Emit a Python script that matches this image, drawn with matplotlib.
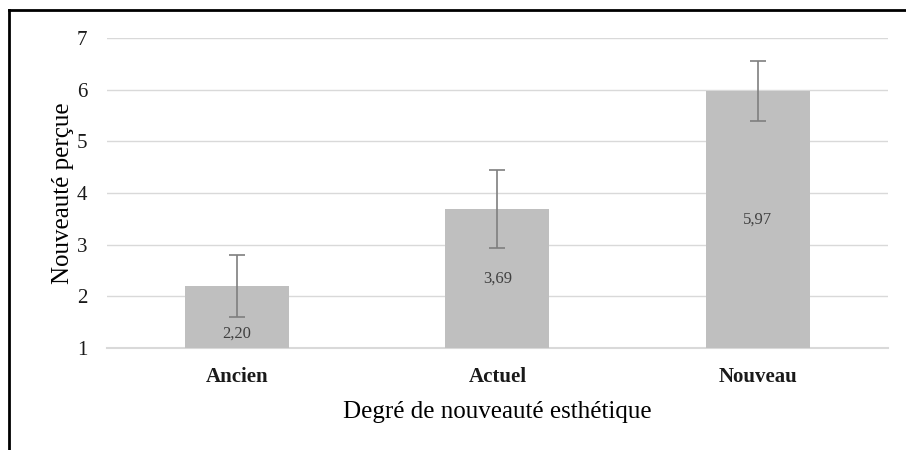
import matplotlib
matplotlib.use('Agg')
import matplotlib.pyplot as plt
from matplotlib.lines import Line2D

plt.rcParams['font.family'] = 'Liberation Serif'

categories = ['Ancien', 'Actuel', 'Nouveau']
means = [2.20, 3.69, 5.97]
errors = [0.60, 0.75, 0.58]
labels = ['2,20', '3,69', '5,97']

fig = plt.figure(figsize=(9.06, 4.5), dpi=100)
ax = fig.add_axes([0.118, 0.2267, 0.862, 0.6889])

x = range(len(categories))
ax.bar(x, [m - 1 for m in means], bottom=1, width=0.4, color='#bfbfbf', zorder=2)
ax.errorbar(x, means, yerr=errors, fmt='none', ecolor='#7f7f7f',
            elinewidth=1.2, capsize=6, capthick=1.2, zorder=3)

# Excel puts labels in the middle, except the first one which sits under the error bar
label_y = [1.27, (1 + means[1]) / 2, (1 + means[2]) / 2]
for i, lab in enumerate(labels):
    ax.text(i, label_y[i], lab, ha='center', va='center', fontsize=12,
            color='#404040', zorder=4)

ax.set_ylim(1, 7)
ax.set_xlim(-0.5, 2.5)
ax.set_yticks(range(1, 8))
ax.yaxis.grid(True, color='#d9d9d9', linewidth=1)
ax.axhline(1, color='#d9d9d9', linewidth=1.5, clip_on=False, zorder=1)
ax.set_axisbelow(True)
for s in ax.spines.values():
    s.set_visible(False)
ax.tick_params(axis='both', length=0, colors='#1a1a1a')
ax.tick_params(axis='y', pad=14, labelsize=15)
ax.tick_params(axis='x', pad=14)
ax.set_xticks(list(x))
ax.set_xticklabels(categories, fontweight='bold', fontsize=15)
ax.set_xlabel('Degré de nouveauté esthétique', fontsize=18, labelpad=10)
ax.set_ylabel('Nouveauté perçue', fontsize=18, labelpad=2)

# partial frame from the original screenshot
fig.add_artist(Line2D([8.5 / 906, 8.5 / 906], [0, 1 - 10 / 450], color='black', linewidth=2, transform=fig.transFigure))
fig.add_artist(Line2D([8.5 / 906, 1], [1 - 10 / 450, 1 - 10 / 450], color='black', linewidth=2, transform=fig.transFigure))

plt.savefig('out.png')
